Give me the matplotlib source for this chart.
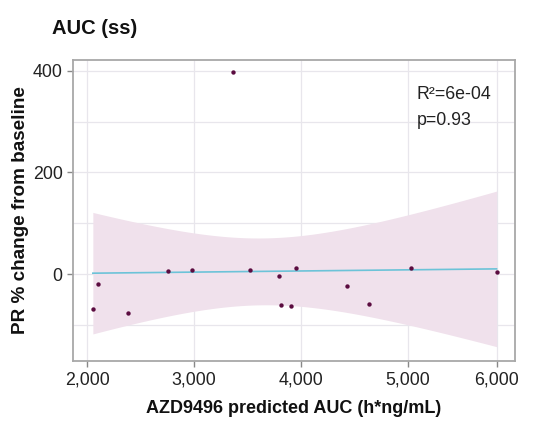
import numpy as np
import matplotlib
matplotlib.use("Agg")
import matplotlib.pyplot as plt

plt.rcParams['font.family'] = ['Liberation Sans', 'DejaVu Sans']

# data
auc = np.array([2051, 2099, 2385, 2752, 2979, 3362, 3524, 3793, 3811, 3911, 3959,
                4435, 4638, 5032, 5834])
pr_change = np.array([-68, -19, -76, 6.5, 8.4, 398, 8.4, -4.5, -60, -63, 12.3,
                      -23, -58, 12.3, 4.5])

xtick_pos = [2000, 3000, 4000, 5000, 5834]
xtick_labels = ["2,000", "3,000", "4,000", "5,000", "6,000"]
ytick_pos = [0, 200, 400]
ytick_labels = ["0", "200", "400"]

title = "AUC (ss)"
xlabel = "AZD9496 predicted AUC (h*ng/mL)"
ylabel = "PR % change from baseline"
r2_text = "R\u00b2=6e-04"
p_text = "p=0.93"

# linear fit with 95% confidence band
n = len(auc)
slope, intercept = np.polyfit(auc, pr_change, 1)
xs = np.linspace(auc.min(), auc.max(), 200)
fit = intercept + slope * xs
resid = pr_change - (intercept + slope * auc)
s = np.sqrt(np.sum(resid ** 2) / (n - 2))
xbar = auc.mean()
sxx = np.sum((auc - xbar) ** 2)
tcrit = 2.160  # t(0.975, df=13)
se = s * np.sqrt(1.0 / n + (xs - xbar) ** 2 / sxx)

W, H = 549, 423
fig = plt.figure(figsize=(W / 100, H / 100), dpi=100)
L, R, T, B = 73, 515, 60, 361
ax = fig.add_axes([L / W, 1 - B / H, (R - L) / W, (B - T) / H])

ax.set_xlim(1865, 6007)
ax.set_ylim(-171, 421)

# grid
for gx in xtick_pos:
    ax.axvline(gx, color="#e8e6ec", lw=0.9, zorder=0)
for gy in [-100, 0, 100, 200, 300, 400]:
    ax.axhline(gy, color="#e8e6ec", lw=0.9, zorder=0)

ax.fill_between(xs, fit - tcrit * se, fit + tcrit * se, color="#f0e1ec", lw=0, zorder=1)
ax.plot(xs, fit, color="#6cc3d8", lw=1.2, zorder=2)
ax.scatter(auc, pr_change, s=10, color="#5b0c40", zorder=3, linewidths=0)

ax.set_xticks(xtick_pos)
ax.set_xticklabels(xtick_labels)
ax.set_yticks(ytick_pos)
ax.set_yticklabels(ytick_labels)
ax.tick_params(axis="both", colors="#888888", labelcolor="#222222", labelsize=12.8,
               length=4, width=1, direction="out", pad=3.5)

for sp in ax.spines.values():
    sp.set_color("#a8a8a8")
    sp.set_linewidth(1.3)

ax.set_xlabel(xlabel, fontsize=13, fontweight="bold", color="#111111", labelpad=8)
ax.set_ylabel(ylabel, fontsize=13.6, fontweight="bold", color="#111111", labelpad=3)

fig.text(417 / W, 1 - 99 / H, r2_text, fontsize=12.8, color="#222222",
         va="baseline", ha="left")
fig.text(417 / W, 1 - 125 / H, p_text, fontsize=12.8, color="#222222",
         va="baseline", ha="left")

fig.text(52 / W, 1 - 33.5 / H, title, fontsize=14.5, fontweight="bold",
         color="#111111", va="baseline", ha="left")

fig.savefig("out.png", dpi=100)
